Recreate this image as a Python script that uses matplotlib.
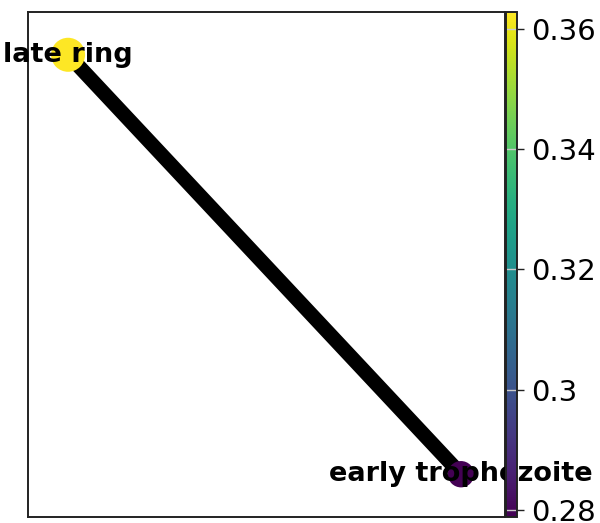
import matplotlib
matplotlib.use("Agg")
import matplotlib.pyplot as plt
from matplotlib.colors import Normalize
from matplotlib.cm import ScalarMappable

# nodes of the abstracted graph
groups = ["late ring", "early trophozoite"]
pos_x = [0.0, 1.0]
pos_y = [1.0, 0.0]
values = [0.3628, 0.2788]
sizes = [600, 360]
edges = [(0, 1)]
edge_width = [10.5]

cbar_ticks = [0.28, 0.30, 0.32, 0.34, 0.36]
cbar_labels = ["0.28", "0.3", "0.32", "0.34", "0.36"]

fig = plt.figure(figsize=(6, 5.23), dpi=100)
ax = fig.add_axes([28/600, 6/523, 477/600, 505/523])
cax = fig.add_axes([506/600, 6/523, 11/600, 505/523])

norm = Normalize(vmin=min(values), vmax=max(values))
cmap = plt.get_cmap("viridis")

for (i, j), w in zip(edges, edge_width):
    ax.plot([pos_x[i], pos_x[j]], [pos_y[i], pos_y[j]], color="black",
            lw=w, solid_capstyle="butt", zorder=1)

ax.scatter(pos_x, pos_y, s=sizes, c=values, cmap=cmap, norm=norm,
           edgecolors="none", zorder=2)

for x, y, g in zip(pos_x, pos_y, groups):
    ax.text(x, y, g, ha="center", va="center", fontsize=19.5,
            fontweight="bold", zorder=3, clip_on=False)

ax.set_xlim(-0.102, 1.112)
ax.set_ylim(-0.102, 1.102)
ax.set_xticks([])
ax.set_yticks([])
for s in ax.spines.values():
    s.set_color("#222222")
    s.set_linewidth(1.4)

cb = fig.colorbar(ScalarMappable(norm=norm, cmap=cmap), cax=cax)
cb.set_ticks(cbar_ticks)
cb.set_ticklabels(cbar_labels)
cb.ax.tick_params(labelsize=21, length=5, width=1, color="#222222", pad=5)
cb.outline.set_edgecolor("#222222")
cb.outline.set_linewidth(1.4)
for t in cbar_ticks:
    cax.axhline(t, color="#cccccc", lw=1)

fig.savefig("out.png", dpi=100)
